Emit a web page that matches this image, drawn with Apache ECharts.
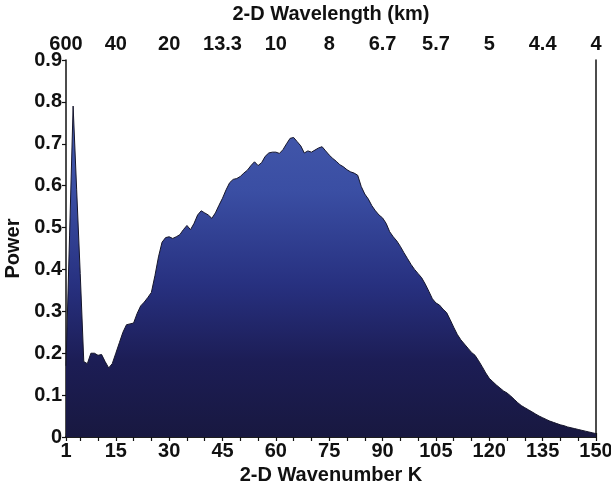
<!DOCTYPE html>
<html>
<head>
<meta charset="utf-8">
<script src="https://cdn.jsdelivr.net/npm/echarts@6/dist/echarts.min.js"></script>
<style>html,body{margin:0;padding:0;background:#fff}#c{width:611px;height:486px}</style>
</head>
<body>
<div id="c"></div>
<script>
// 2-D wavenumber K = 1..150
const power = [
  0.17, 0.48, 0.79, 0.59, 0.39, 0.18, 0.175, 0.20, 0.20, 0.195,
  0.197, 0.18, 0.165, 0.175, 0.20, 0.225, 0.25, 0.268, 0.27, 0.272,
  0.295, 0.313, 0.322, 0.333, 0.345, 0.385, 0.43, 0.465, 0.476, 0.478,
  0.474, 0.478, 0.483, 0.495, 0.505, 0.495, 0.51, 0.53, 0.54, 0.535,
  0.53, 0.522, 0.535, 0.553, 0.57, 0.59, 0.607, 0.615, 0.617, 0.622,
  0.63, 0.637, 0.648, 0.657, 0.648, 0.655, 0.67, 0.678, 0.68, 0.68,
  0.677, 0.686, 0.70, 0.713, 0.715, 0.705, 0.695, 0.678, 0.683, 0.68,
  0.685, 0.69, 0.693, 0.683, 0.673, 0.665, 0.658, 0.65, 0.645, 0.638,
  0.633, 0.63, 0.625, 0.598, 0.58, 0.568, 0.552, 0.54, 0.53, 0.523,
  0.51, 0.49, 0.478, 0.468, 0.455, 0.44, 0.426, 0.412, 0.40, 0.39,
  0.38, 0.365, 0.348, 0.33, 0.32, 0.315, 0.305, 0.297, 0.28, 0.262,
  0.245, 0.232, 0.222, 0.212, 0.202, 0.195, 0.182, 0.168, 0.153, 0.14,
  0.132, 0.124, 0.117, 0.11, 0.105, 0.098, 0.09, 0.082, 0.075, 0.07,
  0.065, 0.06, 0.055, 0.05, 0.046, 0.042, 0.038, 0.035, 0.032, 0.029,
  0.027, 0.024, 0.022, 0.02, 0.018, 0.016, 0.014, 0.012, 0.01, 0.008
];
const kLabelValues = [1, 15, 30, 45, 60, 75, 90, 105, 120, 135, 150];
const kTickValues = [1, 5, 10, 15, 20, 25, 30, 35, 40, 45, 50, 55, 60, 65, 70, 75, 80, 85, 90, 95, 100, 105, 110, 115, 120, 125, 130, 135, 140, 145, 150];
const wavelengthLabels = ['600', '40', '20', '13.3', '10', '8', '6.7', '5.7', '5', '4.4', '4'];
const powerTicks = [0, 0.1, 0.2, 0.3, 0.4, 0.5, 0.6, 0.7, 0.8, 0.9];

const seriesData = power.map((v, i) => [i + 1, v]);
const FONT = 'Liberation Sans, Arial, sans-serif';
const labelStyle = { fontFamily: FONT, fontWeight: 'bold', fontSize: 20, color: '#111' };
const nameStyle = { fontFamily: FONT, fontWeight: 'bold', fontSize: 20, color: '#111' };

const chart = echarts.init(document.getElementById('c'), null, { renderer: 'canvas' });
chart.setOption({
  animation: false,
  grid: { left: 66, right: 15, top: 60, bottom: 49, show: false, containLabel: false, outerBoundsMode: 'none' },
  xAxis: [
    {
      type: 'value', position: 'bottom', min: 1, max: 150,
      name: '2-D Wavenumber K', nameLocation: 'middle', nameGap: 25,
      nameTextStyle: nameStyle,
      axisLine: { show: true, lineStyle: { color: '#111', width: 1.5 } },
      axisTick: { show: true, inside: false, length: 4, customValues: kTickValues, lineStyle: { color: '#111', width: 1.2 } },
      axisLabel: { ...labelStyle, margin: 4, customValues: kLabelValues, formatter: v => String(v) },
      splitLine: { show: false }
    },
    {
      type: 'value', position: 'top', min: 1, max: 150,
      name: '2-D Wavelength (km)', nameLocation: 'middle', nameGap: 36,
      nameTextStyle: nameStyle,
      axisLine: { show: true, lineStyle: { color: '#111', width: 1.5 } },
      axisTick: { show: true, inside: false, length: 4, customValues: kTickValues, lineStyle: { color: '#111', width: 1.2 } },
      axisLabel: { ...labelStyle, margin: 6, customValues: kLabelValues,
        formatter: v => wavelengthLabels[kLabelValues.indexOf(Math.round(v))] },
      splitLine: { show: false }
    }
  ],
  yAxis: [
    {
      type: 'value', position: 'left', min: 0, max: 0.9, interval: 0.1,
      name: 'Power', nameLocation: 'middle', nameGap: 41, nameRotate: 90,
      nameTextStyle: nameStyle,
      axisLine: { show: true, lineStyle: { color: '#111', width: 1.5 } },
      axisTick: { show: true, inside: false, length: 4, customValues: powerTicks, lineStyle: { color: '#111', width: 1.2 } },
      axisLabel: { ...labelStyle, margin: 4, customValues: powerTicks, formatter: v => v === 0 ? '0' : v.toFixed(1) },
      splitLine: { show: false }
    },
    {
      type: 'value', position: 'right', min: 0, max: 0.9,
      axisLine: { show: true, lineStyle: { color: '#111', width: 1.5 } },
      axisTick: { show: false }, axisLabel: { show: false }, splitLine: { show: false }
    }
  ],
  series: [{
    type: 'line', xAxisIndex: 0, yAxisIndex: 0,
    data: seriesData, symbol: 'none', smooth: false,
    lineStyle: { color: '#15152a', width: 1 },
    areaStyle: {
      opacity: 1,
      color: new echarts.graphic.LinearGradient(0, 60, 0, 437, [
        { offset: 0, color: '#4a60b2' },
        { offset: 0.35, color: '#3a4ea3' },
        { offset: 0.6, color: '#27307f' },
        { offset: 0.8, color: '#1c1d55' },
        { offset: 1, color: '#181840' }
      ], true)
    }
  }]
});
</script>
</body>
</html>
